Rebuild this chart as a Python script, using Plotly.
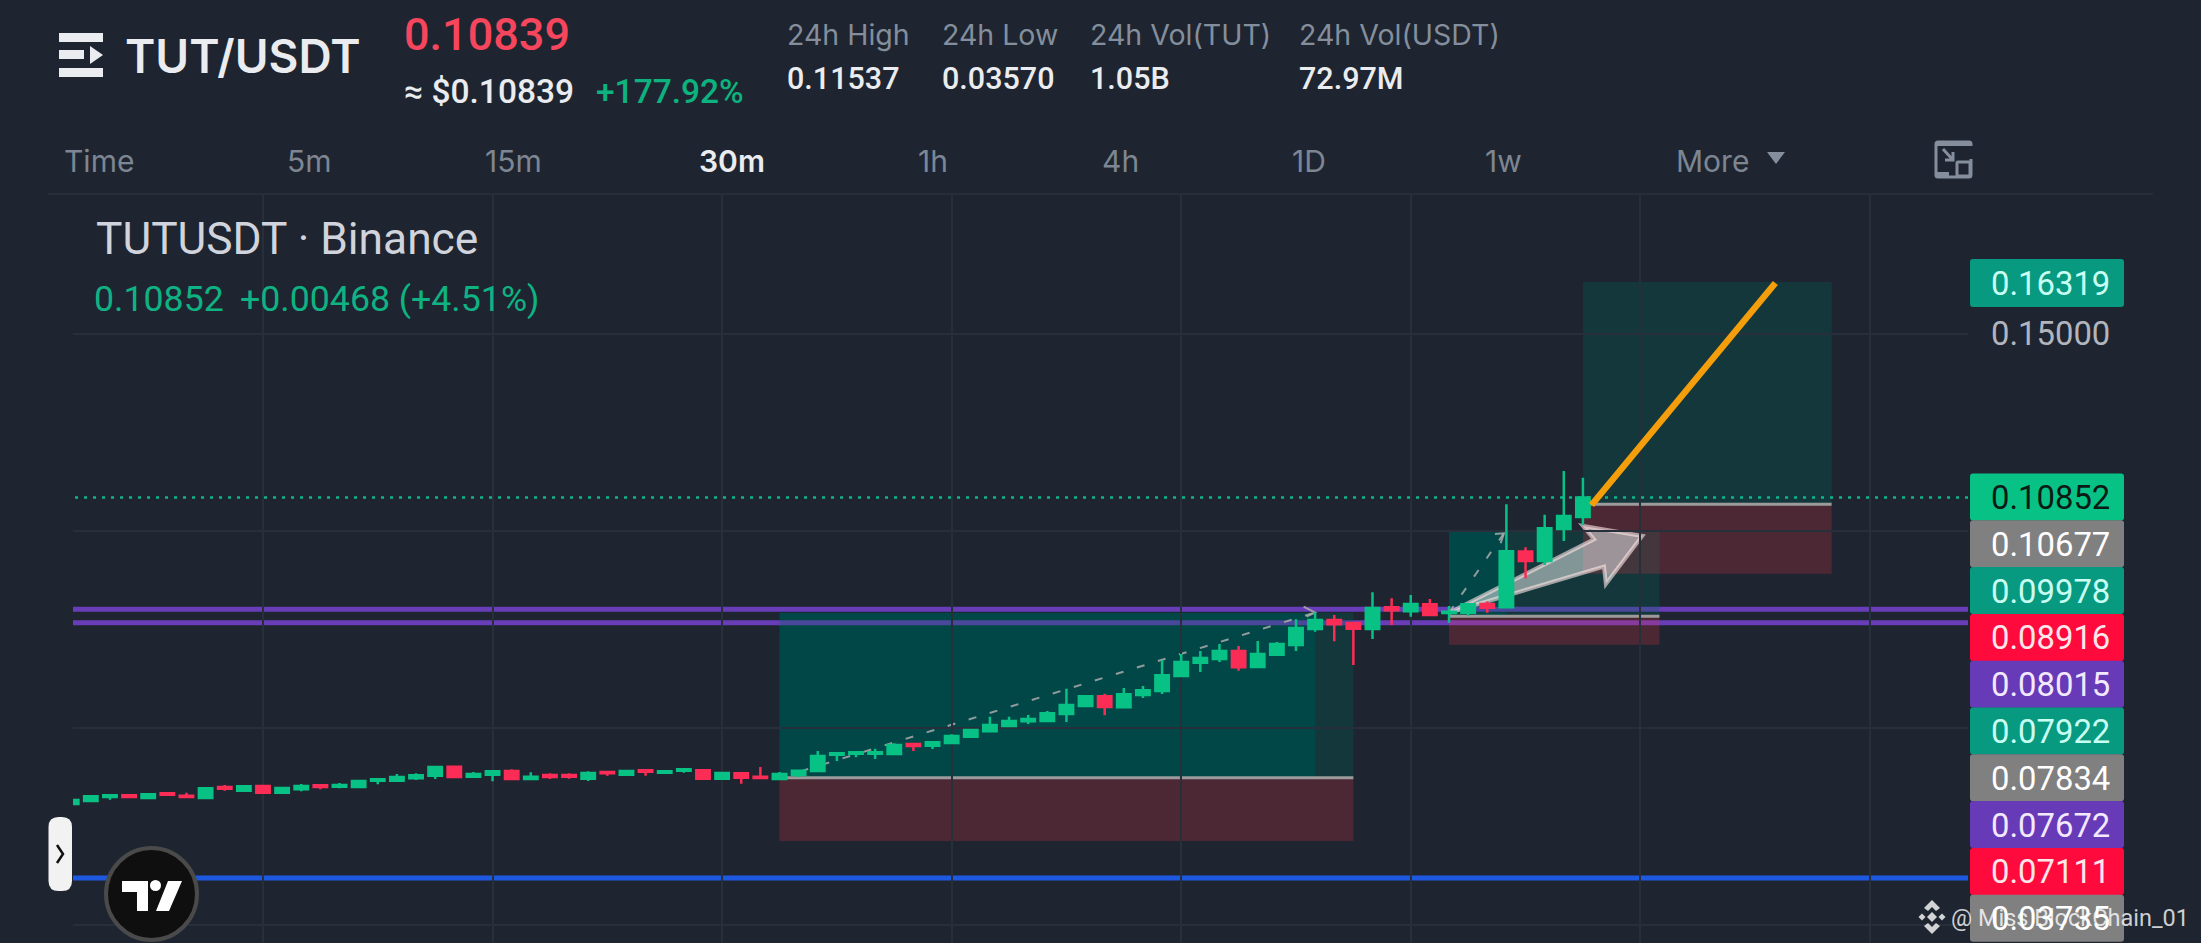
import plotly.graph_objects as go

# candles (price units)
opens = [.03071,.03147,.03249,.03291,.03223,.03342,.03283,.03223,.03503,.03410,
         .03528,.03359,.03443,.03545,.03511,.03503,.03663,.03663,.03722,.03790,
         .04019,.03765,.03815,.03909,.03706,.03807,.03807,.03714,.03883,.03815,
         .03926,.03866,.03917,.03926,.03714,.03849,.03765,.03705,.03807,.03908,
         .04323,.04348,.04348,.04340,.04594,.04551,.04619,.04780,.04915,.05051,
         .05169,.05177,.05355,.05558,.05803,.05524,.05837,.05939,.06320,.06658,
         .06751,.06954,.06548,.06861,.07106,.07512,.07741,.07665,.07513,.08063,
         .07961,.08139,.07919,.07927,.08147,.08063,.09476,.09239,.10051,.10356]
highs = [.03173,.03300,.03291,.03325,.03325,.03342,.03359,.03494,.03553,.03553,
         .03528,.03511,.03579,.03545,.03604,.03655,.03697,.03832,.03849,.04036,
         .04036,.03883,.03900,.03951,.03875,.03849,.03849,.03900,.03917,.03934,
         .03926,.03900,.03968,.03926,.03883,.03883,.04010,.03883,.03917,.04416,
         .04357,.04382,.04475,.04611,.04628,.04670,.04839,.04949,.05287,.05287,
         .05330,.05431,.05998,.05837,.05871,.06015,.06066,.06726,.06878,.06954,
         .07132,.07081,.07208,.07182,.07758,.07935,.07868,.07673,.08444,.08291,
         .08376,.08274,.08097,.08139,.08207,.10677,.09586,.10415,.11523,.11354]
lows = [.03071,.03147,.03181,.03215,.03198,.03308,.03232,.03223,.03410,.03410,
        .03325,.03359,.03393,.03443,.03469,.03503,.03570,.03655,.03680,.03706,
        .03731,.03756,.03646,.03697,.03697,.03706,.03714,.03655,.03790,.03807,
        .03790,.03866,.03866,.03714,.03714,.03587,.03706,.03705,.03748,.03908,
        .04162,.04255,.04213,.04315,.04416,.04467,.04619,.04780,.04898,.05025,
        .05101,.05177,.05152,.05558,.05321,.05524,.05761,.05863,.06320,.06421,
        .06675,.06455,.06548,.06861,.06954,.07445,.07199,.06599,.07259,.07615,
        .07826,.07868,.07674,.07851,.07927,.08063,.08799,.09137,.09746,.10152]
closes = [.03173,.03266,.03291,.03249,.03316,.03308,.03249,.03469,.03460,.03519,
          .03359,.03477,.03528,.03503,.03553,.03655,.03697,.03756,.03799,.04010,
          .03756,.03832,.03900,.03706,.03765,.03756,.03765,.03858,.03849,.03909,
          .03892,.03900,.03951,.03714,.03858,.03739,.03731,.03832,.03917,.04289,
          .04357,.04382,.04382,.04568,.04543,.04636,.04797,.04949,.05076,.05177,
          .05228,.05372,.05584,.05803,.05533,.05854,.05956,.06336,.06675,.06776,
          .06954,.06540,.06878,.07132,.07538,.07741,.07631,.07521,.08046,.07987,
          .08147,.07868,.07953,.08139,.08054,.09484,.09239,.10068,.10381,.10852]

last_price = 0.10852
purple_levels = [0.08015, 0.07672]
blue_level = 0.0119
time_grid = [10, 22, 34, 46, 58, 70, 82, 94]
price_grid = [0, 0.05, 0.10, 0.15]

# long position tools: start, end, target, entry, stop, end of darker zone
pos_start = [37, 72, 79]
pos_end = [67, 83, 92]
pos_target = [0.07922, 0.09978, 0.16319]
pos_entry = [0.03735, 0.07834, 0.10677]
pos_stop = [0.0213, 0.07111, 0.08916]
pos_dark_end = [65, 75, 79]

dash1_x, dash1_y = [37, 65], [0.03735, 0.0793]
head1_x, head1_y = [64.4, 65, 64.55], [0.0808, 0.0793, 0.07826]
dash2_x, dash2_y = [72, 74.87], [0.07924, 0.09941]
head2_x, head2_y = [74.4, 74.87, 74.7], [0.09924, 0.09941, 0.09687]
orange_x, orange_y = [79.45, 89.06], [0.1066, 0.16294]
arrow_x = [72.0, 79.58, 79.0, 82.1, 80.2, 80.1]
arrow_y = [0.07924, 0.09789, 0.10127, 0.09873, 0.08655, 0.09095]

tabs = ["Time", "5m", "15m", "30m", "1h", "4h", "1D", "1w", "More"]
stat_names = ["24h High", "24h Low", "24h Vol(TUT)", "24h Vol(USDT)"]
stat_values = ["0.11537", "0.03570", "1.05B", "72.97M"]
badge_labels = ["0.10852", "0.10677", "0.09978", "0.08916", "0.08015",
                "0.07922", "0.07834", "0.07672", "0.07111", "0.03735"]

BG = "#1e2530"
GRID = "#272f3a"
GREEN = "#08c285"
RED = "#fb2c55"
TEAL = "#089981"
GRAY = "#808080"
CRIMSON = "#fe0a3c"
PURPLE = "#673ab7"
badge_colors = [GREEN, GRAY, TEAL, CRIMSON, PURPLE, TEAL, GRAY, PURPLE, CRIMSON, GRAY]
badge_text = ["#0b1a15", "#ffffff", "#c9fff2", "#ffe6ea", "#f3e9ff", "#c9fff2",
              "#ffffff", "#f3e9ff", "#ffe6ea", "#ffffff"]

W, H = 2201, 943


def px(x):
    return x / W


def py(y):
    return 1 - y / H


def rounded(x0, y0, x1, y1, r):
    # rounded rectangle as a paper path, args in page pixels
    pts = [("M", x0 + r, y0), ("L", x1 - r, y0), ("Q", x1, y0, x1, y0 + r),
           ("L", x1, y1 - r), ("Q", x1, y1, x1 - r, y1), ("L", x0 + r, y1),
           ("Q", x0, y1, x0, y1 - r), ("L", x0, y0 + r), ("Q", x0, y0, x0 + r, y0)]
    out = ""
    for p in pts:
        out += p[0]
        for i in range(1, len(p), 2):
            out += f" {px(p[i]):.5f},{py(p[i + 1]):.5f} "
    return out + "Z"


def poly(points):
    return "M " + " L ".join(f"{px(a):.5f},{py(b):.5f}" for a, b in points) + " Z"


def data_path(xs, ys, close=True):
    s = "M " + " L ".join(f"{a},{b}" for a, b in zip(xs, ys))
    return s + " Z" if close else s


shapes = []


def paper_shape(path, fill, line=None, width=0):
    shapes.append(dict(type="path", xref="paper", yref="paper", path=path, fillcolor=fill,
                       line=dict(color=line or fill, width=width), layer="above"))


def data_rect(x0, x1, y0, y1, fill):
    shapes.append(dict(type="rect", xref="x", yref="y", x0=x0, x1=x1, y0=y0, y1=y1,
                       fillcolor=fill, line=dict(width=0), layer="below"))


def data_line(xs, ys, color, width, dash="solid", layer="below", close=False):
    shapes.append(dict(type="path", xref="x", yref="y", path=data_path(xs, ys, close),
                       line=dict(color=color, width=width, dash=dash), layer=layer))


# dark profit zones go first, the levels show through the lighter tint on top
for i in range(3):
    if pos_dark_end[i] > pos_start[i]:
        data_rect(pos_start[i], pos_dark_end[i], pos_entry[i], pos_target[i], "rgba(0,64,68,0.85)")

for lv in purple_levels:
    data_line([-5, 105], [lv, lv], "#6a3db8", 5)
data_line([-5, 105], [blue_level, blue_level], "#1c59e0", 5)

for i in range(3):
    data_rect(pos_start[i], pos_end[i], pos_entry[i], pos_target[i], "rgba(0,100,88,0.30)")
    data_rect(pos_start[i], pos_end[i], pos_stop[i], pos_entry[i], "rgba(242,54,69,0.22)")
    data_line([pos_start[i], pos_end[i]], [pos_entry[i], pos_entry[i]], "#9b9b9b", 3)

data_line([-5, 105], [last_price, last_price], "#10b58a", 2.5, dash="3px,6px")

data_line(dash1_x, dash1_y, "rgba(170,170,170,0.85)", 2, dash="8px,14px")
data_line(head1_x, head1_y, "rgba(170,170,170,0.85)", 2)
data_line(dash2_x, dash2_y, "rgba(170,170,170,0.85)", 2, dash="8px,14px")
data_line(head2_x, head2_y, "rgba(170,170,170,0.85)", 2)

shapes.append(dict(type="path", xref="x", yref="y", path=data_path(arrow_x, arrow_y),
                   fillcolor="rgba(255,255,255,0.47)",
                   line=dict(color="rgba(255,230,230,0.6)", width=4), layer="below"))

data_line(orange_x, orange_y, "#f59e0b", 6.5, layer="above")

# header bits, all in page pixels
shapes.append(dict(type="line", xref="paper", yref="paper", x0=px(48), x1=px(2153), y0=py(194), y1=py(194),
                   line=dict(color="#262e38", width=2), layer="above"))
paper_shape(poly([(59, 33), (103, 33), (103, 42), (59, 42)]), "#eaecef")
paper_shape(poly([(59, 50), (84, 50), (84, 59), (59, 59)]), "#eaecef")
paper_shape(poly([(90, 46), (103, 55), (90, 64)]), "#eaecef")
paper_shape(poly([(59, 68), (103, 68), (103, 77), (59, 77)]), "#eaecef")
paper_shape(poly([(1767, 152), (1785, 152), (1776, 164)]), "#848e9c")

# layout switch icon
paper_shape(rounded(1936, 142, 1971, 177, 2), "rgba(0,0,0,0)", "#848e9c", 3)
paper_shape(poly([(1945, 146), (1973, 146), (1973, 159), (1958, 159), (1958, 173), (1945, 173)]), BG)
paper_shape(poly([(1936, 142), (1971, 142), (1971, 146), (1936, 146)]), "#848e9c")
paper_shape(poly([(1937, 172), (1949, 172), (1949, 176), (1937, 176)]), "#848e9c")
paper_shape(rounded(1957, 162, 1970, 176, 1), "rgba(0,0,0,0)", "#848e9c", 3)
shapes.append(dict(type="path", xref="paper", yref="paper",
                   path=f"M {px(1943)},{py(149)} L {px(1953)},{py(160)} M {px(1953)},{py(152)} L {px(1953)},{py(160)} L {px(1945)},{py(160)}",
                   line=dict(color="#848e9c", width=3), layer="above"))

# side pill
paper_shape(rounded(48.5, 817, 72, 891, 10), "#f2f2f2")
shapes.append(dict(type="path", xref="paper", yref="paper",
                   path=f"M {px(57)},{py(845)} L {px(63)},{py(854)} L {px(57)},{py(863)}",
                   line=dict(color="#111111", width=2.5), layer="above"))

# tradingview badge
shapes.append(dict(type="circle", xref="paper", yref="paper", x0=px(106), x1=px(197), y0=py(848), y1=py(940),
                   fillcolor="#0f0f0f", line=dict(color="#4a4a4a", width=4), layer="above"))
paper_shape(poly([(122, 881), (148, 881), (148, 911), (137, 911), (137, 892), (122, 892)]), "#ffffff")
shapes.append(dict(type="circle", xref="paper", yref="paper", x0=px(150), x1=px(161), y0=py(880), y1=py(891),
                   fillcolor="#ffffff", line=dict(width=0), layer="above"))
paper_shape(poly([(168, 881), (182, 881), (169, 911), (156, 911)]), "#ffffff")

# right price badges
paper_shape(rounded(1970, 259, 2124, 307, 3), TEAL)
for i in range(len(badge_labels)):
    top = 473.5 + i * 46.8
    paper_shape(rounded(1970, top, 2124, top + 47, 3), badge_colors[i])

# binance watermark glyph
for cx, cy in [(1932, 917), (1922, 917), (1942, 917)]:
    s = 5 if cx == 1932 else 3.5
    paper_shape(poly([(cx - s, cy), (cx, cy - s), (cx + s, cy), (cx, cy + s)]), "rgba(255,255,255,0.8)")
paper_shape(poly([(1924, 908), (1932, 900), (1940, 908), (1936, 911), (1932, 907), (1928, 911)]), "rgba(255,255,255,0.8)")
paper_shape(poly([(1924, 926), (1932, 934), (1940, 926), (1936, 923), (1932, 927), (1928, 923)]), "rgba(255,255,255,0.8)")

annotations = []


def txt(x, y, text, size, color, family="Inter", weight=400, anchor="left"):
    # annotations carry a small padding, take it off so x is the ink edge
    x = x - 3 if anchor == "left" else x + 3
    annotations.append(dict(x=px(x), y=py(y + 1), xref="paper", yref="paper", text=text, showarrow=False,
                            xanchor=anchor, yanchor="middle", align=anchor,
                            font=dict(family=family, size=size, color=color, weight=weight)))


txt(126, 55, "TUT/USDT", 46, "#eaecef", weight=600)
txt(405, 33, "0.10839", 45, "#f6465d", family="Roboto", weight=500)
txt(405, 90, "≈ $0.10839", 33.5, "#eaecef", family="Roboto", weight=500)
txt(597, 90, "+177.92%", 33.5, "#0db27f", family="Roboto", weight=500)

stat_x = [788, 943, 1091, 1300]
for i in range(4):
    txt(stat_x[i], 34, stat_names[i], 28.5, "#848e9c")
    txt(stat_x[i], 78, stat_values[i], 30.5, "#eaecef", family="Roboto", weight=500)

tab_x = [65, 288, 486, 700, 919, 1103, 1293, 1486, 1677]
for i in range(len(tabs)):
    if tabs[i] == "30m":
        txt(tab_x[i], 160, tabs[i], 30, "#eaecef", weight=600)
    else:
        txt(tab_x[i], 160, tabs[i], 30, "#7d8692")

txt(97, 238, "TUTUSDT · Binance", 44.3, "#d1d4dc", family="Roboto")
txt(95, 298, "0.10852", 35.7, "#0fb383", family="Roboto")
txt(241, 298, "+0.00468 (+4.51%)", 35.7, "#0fb383", family="Roboto")

txt(2109, 283, "0.16319", 32.8, "#c9fff2", family="Roboto", anchor="right")
annotations.append(dict(x=px(2112), y=0.15, xref="paper", yref="y", text="0.15000", showarrow=False,
                        xanchor="right", yanchor="middle",
                        font=dict(family="Roboto", size=32.8, color="#b2b5be")))
for i in range(len(badge_labels)):
    txt(2109, 473.5 + i * 46.8 + 23.5, badge_labels[i], 32.8, badge_text[i], family="Roboto", anchor="right")

txt(1952, 917, "@ Miss BlockChain_01", 23.5, "rgba(255,255,255,0.78)", family="Roboto")

fig = go.Figure(go.Candlestick(
    x=list(range(len(opens))), open=opens, high=highs, low=lows, close=closes,
    increasing=dict(line=dict(color=GREEN, width=2.5), fillcolor=GREEN),
    decreasing=dict(line=dict(color=RED, width=2.5), fillcolor=RED),
    whiskerwidth=0, hoverinfo="skip",
))

fig.update_layout(
    width=W, height=H, autosize=False, margin=dict(l=0, r=0, t=0, b=0, pad=0),
    paper_bgcolor=BG, plot_bgcolor=BG, showlegend=False, boxgap=0,
    shapes=shapes, annotations=annotations,
    xaxis=dict(domain=[px(73), px(1968)], range=[0.068, 99.13], rangeslider=dict(visible=False),
               tickmode="array", tickvals=time_grid, showticklabels=False, ticks="",
               showgrid=True, gridcolor=GRID, gridwidth=2, zeroline=False, showline=False),
    yaxis=dict(domain=[0, py(195)], range=[-0.00457, 0.18527],
               tickmode="array", tickvals=price_grid, showticklabels=False, ticks="",
               showgrid=True, gridcolor=GRID, gridwidth=2, zeroline=False, showline=False),
)

fig.write_html("out.html", config=dict(displayModeBar=False),
               post_script="document.body.style.margin='0';document.body.style.background='#1e2530';")
